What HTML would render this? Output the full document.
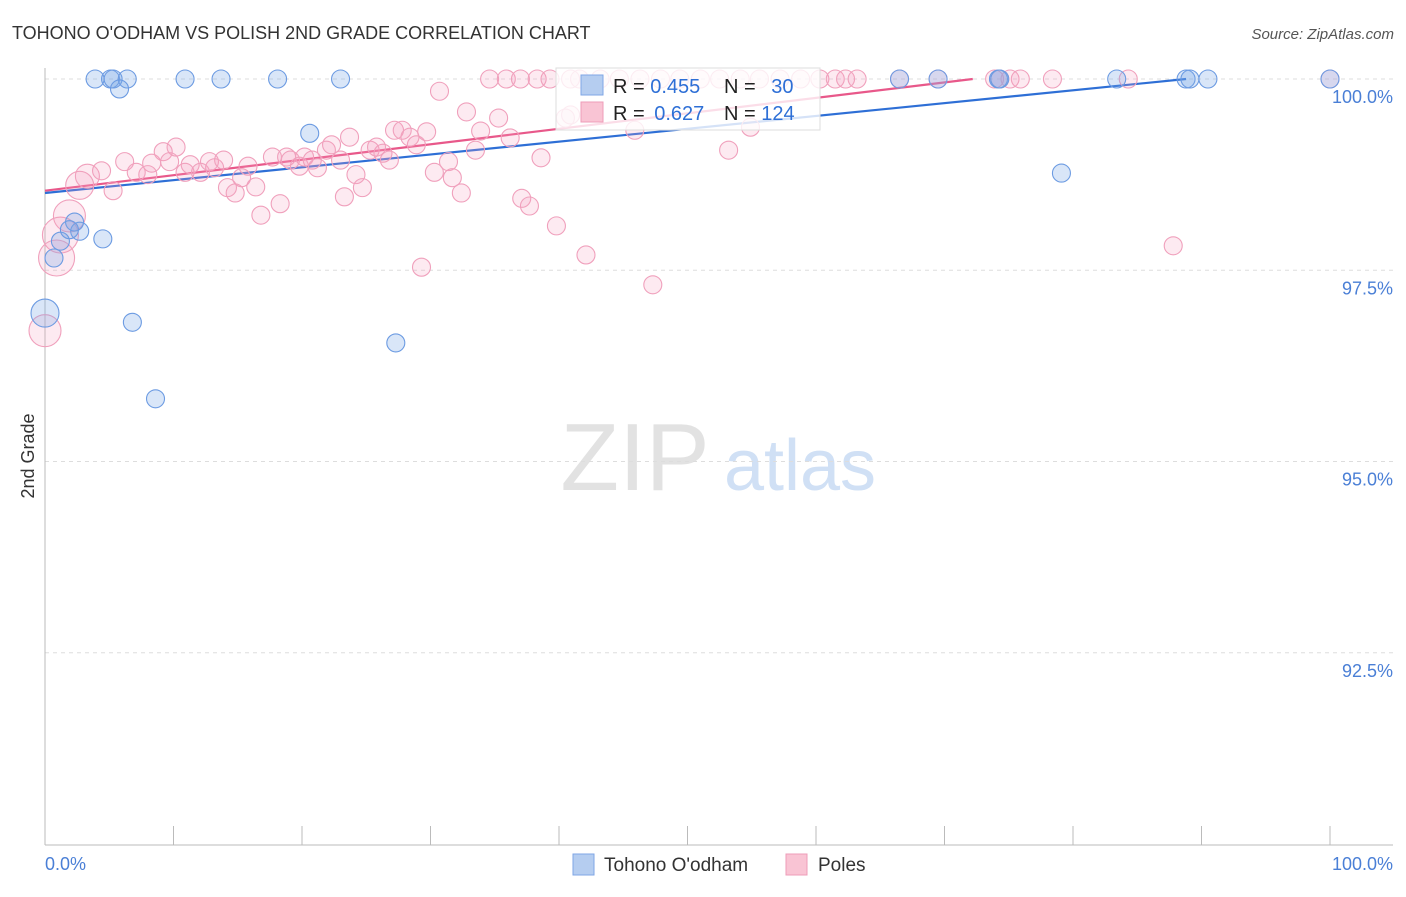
<!DOCTYPE html>
<html><head><meta charset="utf-8"><style>
body{margin:0;background:#fff;font-family:"Liberation Sans",sans-serif}
svg text{font-family:"Liberation Sans",sans-serif}
</style></head><body>
<svg id="chart" width="1406" height="892" xmlns="http://www.w3.org/2000/svg">
<text x="12" y="39" font-size="18" fill="#333">TOHONO O'ODHAM VS POLISH 2ND GRADE CORRELATION CHART</text>
<text x="1394" y="39" font-size="15" fill="#555" font-style="italic" text-anchor="end">Source: ZipAtlas.com</text>
<text x="34" y="456" font-size="18" fill="#333" transform="rotate(-90 34 456)" text-anchor="middle">2nd Grade</text>
<g><text x="635" y="490" font-size="96" fill="#e2e2e2" font-family="Liberation Serif" text-anchor="middle">ZIP</text><text x="800" y="490" font-size="72" fill="#d0e0f5" text-anchor="middle">atlas</text></g>
<g id="grid"></g><g id="axes"></g><g id="lines"></g><g id="pts"></g>
<g>
<rect x="556" y="68" width="264" height="62" fill="#fff" fill-opacity="0.8" stroke="#ddd"/>
<rect x="581" y="75" width="22" height="20" fill="#b5cdf0" stroke="#7fa6e6"/>
<rect x="581" y="102" width="22" height="20" fill="#f9c4d4" stroke="#ee9cb8"/>
<text x="613" y="93" font-size="20" fill="#222">R = <tspan fill="#2e6fd6">0.455</tspan></text>
<text x="724" y="93" font-size="20" fill="#222">N = <tspan fill="#2e6fd6" dx="10">30</tspan></text>
<text x="613" y="120" font-size="20" fill="#222">R = <tspan fill="#2e6fd6" dx="4">0.627</tspan></text>
<text x="724" y="120" font-size="20" fill="#222">N = <tspan fill="#2e6fd6">124</tspan></text>
</g>
<g>
<rect x="573" y="854" width="21" height="21" fill="#b5cdf0" stroke="#7fa6e6"/>
<text x="604" y="871" font-size="19" fill="#333">Tohono O'odham</text>
<rect x="786" y="854" width="21" height="21" fill="#f9c4d4" stroke="#ee9cb8"/>
<text x="818" y="871" font-size="19" fill="#333">Poles</text>
</g>
</svg>
<script>
const yTicks=[100,97.5,95,92.5];
const yTickLabels=["100.0%","97.5%","95.0%","92.5%"];
const blueX=[3.9,5.1,5.3,6.4,10.9,13.7,18.1,23.0,5.8,20.6,66.5,69.5,74.2,83.4,88.8,89.1,90.5,100,79.1,4.5,2.7,2.3,1.2,0.7,0,6.8,27.3,8.6,1.9,74.3];
const blueY=[100,100,100,100,100,100,100,100,99.87,99.29,100,100,100,100,100,100,100,100,98.77,97.91,98.01,98.13,97.88,97.66,96.94,96.82,96.55,95.82,98.03,100];
const blueR=[9,9,9,9,9,9,9,9,9,9,9,9,9,9,9,9,9,9,9,9,9,9,9,9,14,9,9,9,9,9];
const pinkX=[34.6,35.9,37.0,38.3,39.3,40.9,41.6,43.2,44.7,46.3,47.9,49.4,51.0,52.5,54.1,55.6,57.2,58.8,60.3,61.5,62.3,63.2,66.5,69.5,73.9,74.3,75.1,75.9,78.4,84.3,100,
30.7,32.8,35.3,33.9,33.5,36.2,38.6,37.1,37.7,39.8,42.1,47.3,29.3,53.2,54.9,45.9,40.9,87.8,40.5,
3.3,2.7,1.9,1.2,0.9,0,4.4,5.3,6.2,7.1,8.0,8.3,9.2,9.7,10.2,10.9,11.3,12.1,12.8,13.2,13.9,14.2,14.8,15.3,15.8,16.4,16.8,17.7,18.3,18.8,19.1,19.8,20.2,20.8,21.2,21.9,22.3,23.0,23.7,24.2,24.7,23.3,25.3,25.8,26.3,26.8,27.2,27.8,28.4,28.9,29.7,30.3,31.4,31.7,32.4];
const pinkY=[100,100,100,100,100,100,100,100,100,100,100,100,100,100,100,100,100,100,100,100,100,100,100,100,100,100,100,100,100,100,100,
99.84,99.57,99.49,99.32,99.07,99.23,98.97,98.44,98.34,98.08,97.70,97.31,97.54,99.07,99.37,99.33,99.53,97.82,99.49,
98.73,98.61,98.21,97.96,97.66,96.71,98.80,98.54,98.92,98.78,98.75,98.90,99.05,98.92,99.11,98.78,98.88,98.78,98.92,98.84,98.94,98.58,98.51,98.71,98.86,98.59,98.22,98.98,98.37,98.98,98.94,98.86,98.98,98.94,98.84,99.07,99.14,98.94,99.24,98.75,98.58,98.46,99.07,99.11,99.03,98.94,99.33,99.33,99.24,99.14,99.31,98.78,98.92,98.71,98.51];
const pinkBig={50:12,51:14,52:16,53:18,54:18,55:16};
const blueTrend=[[0,98.51],[88.8,100]];
const pinkTrend=[[0,98.54],[72.2,100]];
const NS="http://www.w3.org/2000/svg";
const X0=45,X1=1330,YT=79,PX=76.5;
const xs=v=>X0+(X1-X0)*v/100;
const ys=v=>YT+(100-v)*PX;
function mk(t,a,p){const e=document.createElementNS(NS,t);for(const k in a)e.setAttribute(k,a[k]);p.appendChild(e);return e;}
const grid=document.getElementById('grid'),axes=document.getElementById('axes'),lines=document.getElementById('lines'),pts=document.getElementById('pts');
yTicks.forEach((t,i)=>{
 const l=mk('line',{x1:45,x2:1393,y1:ys(t),y2:ys(t),stroke:'#ddd','stroke-dasharray':'4,4'},grid);
 
 
 const tx=mk('text',{x:1393,y:ys(t)+24,'font-size':18,fill:'#4a7fd6','text-anchor':'end'},axes);
 tx.textContent=yTickLabels[i];
 
 
});
const ya=mk('line',{x1:45,x2:45,y1:68,y2:845,stroke:'#bbb'},axes);


const xa=mk('line',{x1:45,x2:1393,y1:845,y2:845,stroke:'#bbb'},axes);


for(let i=0;i<=10;i++){const t=mk('line',{x1:xs(i*10),x2:xs(i*10),y1:826,y2:845,stroke:'#bbb'},axes);
 
 }
[["0.0%",45,'start'],["100.0%",1393,'end']].forEach(a=>{const t=mk('text',{x:a[1],y:870,'font-size':18,fill:'#4a7fd6','text-anchor':a[2]},axes);t.textContent=a[0];
 
 });
pinkX.forEach((x,i)=>{const c=mk('circle',{cx:xs(x),cy:ys(pinkY[i]),r:pinkBig[i]||9,fill:'rgba(245,160,190,0.22)',stroke:'#f0a0bc','stroke-width':1.1},pts);
 
 });
blueX.forEach((x,i)=>{const c=mk('circle',{cx:xs(x),cy:ys(blueY[i]),r:blueR[i],fill:'rgba(120,165,230,0.28)',stroke:'#6c9be2','stroke-width':1.1},pts);
 
 });
const bl=mk('polyline',{points:blueTrend.map(p=>xs(p[0])+','+ys(p[1])).join(' '),fill:'none',stroke:'#2e6fd6','stroke-width':2.2},lines);


const pl=mk('polyline',{points:pinkTrend.map(p=>xs(p[0])+','+ys(p[1])).join(' '),fill:'none',stroke:'#e8588a','stroke-width':2.2},lines);


</script>
</body></html>
